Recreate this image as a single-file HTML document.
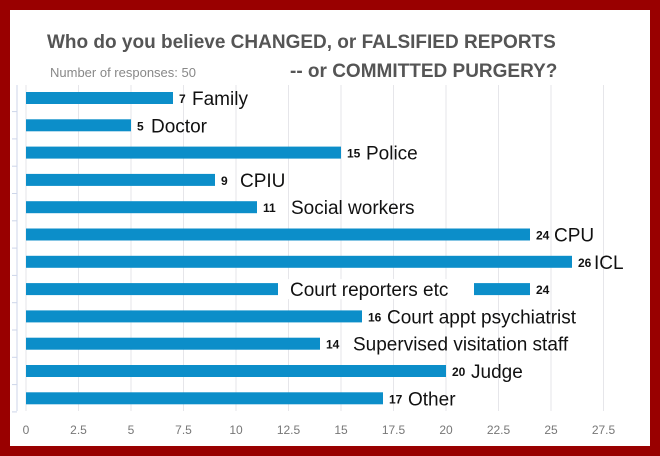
<!DOCTYPE html>
<html><head><meta charset="utf-8"><style>
body{margin:0;width:660px;height:456px;background:#990000;overflow:hidden;font-family:"Liberation Sans",sans-serif}
#card{position:absolute;left:10px;top:10px;width:640px;height:436px;background:#fff}
</style></head><body>
<div id="card"></div>
<svg id="chart" width="660" height="456" style="position:absolute;left:0;top:0">
<text x="47" y="48" font-size="19" font-weight="bold" fill="#555">Who do you believe CHANGED, or FALSIFIED REPORTS</text>
<text x="290" y="77" font-size="19" font-weight="bold" fill="#555">-- or COMMITTED PURGERY?</text>
<text x="50" y="77" font-size="13" fill="#888">Number of responses: 50</text>
<g id="grid"></g><g id="bars"></g><g id="xt"></g>
</svg>
<script>
const categories=["Family","Doctor","Police","CPIU","Social workers","CPU","ICL","Court reporters etc","Court appt psychiatrist","Supervised visitation staff","Judge","Other"];
const values=[7,5,15,9,11,24,26,24,16,14,20,17];
const ticks=[0,2.5,5,7.5,10,12.5,15,17.5,20,22.5,25,27.5];
const labelOffsets=[19,20,25,25,34,24,22,-240,25,33,25,25];
const NS="http://www.w3.org/2000/svg";
const x=v=>26+v*21;
const y=i=>98+i*27.3;
function mk(t,a,p){const e=document.createElementNS(NS,t);for(const k in a)e.setAttribute(k,a[k]);p.appendChild(e);return e;}
const grid=document.getElementById('grid'),bars=document.getElementById('bars'),xt=document.getElementById('xt');
ticks.forEach(t=>{
 const l=mk('line',{x1:x(t),x2:x(t),y1:85,y2:411,stroke:'#e6e6ea','stroke-width':1},grid);
 
 
 const tx=mk('text',{x:x(t),y:434,'font-size':12,fill:'#777','text-anchor':'middle'},xt);
 tx.textContent=t;
 
 
});
const ax=mk('line',{x1:17,x2:17,y1:85,y2:411,stroke:'#cdd6ea'},grid);


categories.forEach((c,i)=>{
 const cy=y(i);
 const tk=mk('line',{x1:12,x2:17,y1:cy+13.6,y2:cy+13.6,stroke:'#cdd6ea'},grid);
 
 
 const r=mk('rect',{x:x(0),y:cy-6,width:x(values[i])-x(0),height:12,fill:'#0c8ec9'},bars);
 
 
 const v=mk('text',{x:x(values[i])+6,y:cy+5,'font-size':12,'font-weight':'bold',fill:'#111'},bars);
 v.textContent=values[i];
 
 
 const lx=x(values[i])+labelOffsets[i];
 if(labelOffsets[i]<0){
  const bg=mk('rect',{x:lx-12,y:cy-10,width:196,height:20,fill:'#fff'},bars);
  
  
 }
 const t=mk('text',{x:lx,y:cy+7,'font-size':19,fill:'#111'},bars);
 t.textContent=c;
 
 
});
</script>
</body></html>
